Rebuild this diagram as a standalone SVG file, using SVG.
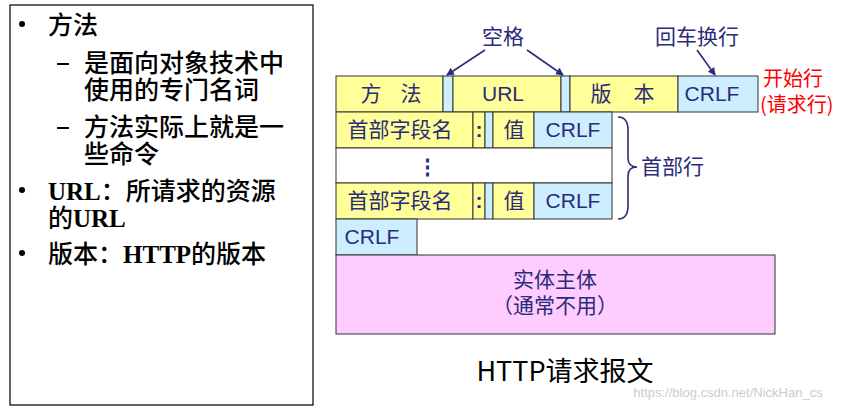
<svg xmlns="http://www.w3.org/2000/svg" width="853" height="407" viewBox="0 0 853 407">
<style>
.t{font-family:"Noto Sans CJK SC","Liberation Sans",sans-serif;font-size:25px;font-weight:500;fill:#000}
.s{font-family:"Liberation Serif","Noto Sans CJK SC",serif;font-weight:bold}
.y{fill:#ffff99;stroke:#333;stroke-width:1}
.b{fill:#cceeff;stroke:#333;stroke-width:1}
.l{font-family:"Liberation Sans","Noto Sans CJK SC",sans-serif;font-size:21px;fill:#2b2b7a}
.a{stroke:#2b2b7a;stroke-width:1.6;fill:none}
</style>
<defs><marker id="ar" markerWidth="8" markerHeight="8" refX="7" refY="4" orient="auto" markerUnits="userSpaceOnUse"><path d="M0,0 L8,4 L0,8 Z" fill="#2b2b7a"/></marker></defs>
<rect width="853" height="407" fill="#fff"/>
<g id="left">
<rect x="10" y="5" width="303" height="400" fill="#fff" stroke="#000" stroke-width="1.2"/>
<circle cx="22" cy="24" r="3" fill="#000"/><text class="t" x="48" y="34">方法</text>
<rect x="57" y="63" width="12" height="2" fill="#000"/><text class="t" x="84" y="72">是面向对象技术中</text>
<text class="t" x="84" y="99">使用的专门名词</text>
<rect x="57" y="127" width="12" height="2" fill="#000"/><text class="t" x="84" y="136">方法实际上就是一</text>
<text class="t" x="84" y="163">些命令</text>
<circle cx="22" cy="190" r="3" fill="#000"/><text class="t" x="48" y="200"><tspan class="s">URL</tspan>：所请求的资源</text>
<text class="t" x="48" y="227">的<tspan class="s">URL</tspan></text>
<circle cx="22" cy="253" r="3" fill="#000"/><text class="t" x="48" y="263">版本：<tspan class="s">HTTP</tspan>的版本</text>
</g>
<g id="row1">
<rect class="y" x="336" y="76" width="107" height="36"/>
<rect class="b" x="443" y="76" width="10" height="36"/>
<rect class="y" x="453" y="76" width="108" height="36"/>
<rect class="b" x="561" y="76" width="9" height="36"/>
<rect class="y" x="570" y="76" width="108" height="36"/>
<rect class="b" x="678" y="76" width="80" height="36"/>
<text class="l" x="371" y="101" text-anchor="middle">方</text>
<text class="l" x="411" y="101" text-anchor="middle">法</text>
<text class="l" x="503" y="101" text-anchor="middle">URL</text>
<text class="l" x="601" y="101" text-anchor="middle">版</text>
<text class="l" x="644" y="101" text-anchor="middle">本</text>
<text class="l" x="712" y="101" text-anchor="middle">CRLF</text>
</g>
<g id="header1">
<rect class="y" x="336" y="112" width="137" height="36"/>
<rect class="y" x="473" y="112" width="12" height="36"/>
<rect class="b" x="485" y="112" width="8" height="36"/>
<rect class="y" x="493" y="112" width="41" height="36"/>
<rect class="b" x="534" y="112" width="78" height="36"/>
<text class="l" x="400" y="137" text-anchor="middle">首部字段名</text>
<text class="l" x="479" y="137" text-anchor="middle" font-weight="bold">:</text>
<text class="l" x="514" y="137" text-anchor="middle">值</text>
<text class="l" x="573" y="137" text-anchor="middle">CRLF</text>
</g>
<g id="dots">
<rect x="336" y="148" width="276" height="35" fill="#fff" stroke="#333"/>
<text class="l" x="427" y="174" text-anchor="middle" font-weight="bold">⋮</text>
</g>
<g id="header2">
<rect class="y" x="336" y="183" width="137" height="36"/>
<rect class="y" x="473" y="183" width="12" height="36"/>
<rect class="b" x="485" y="183" width="8" height="36"/>
<rect class="y" x="493" y="183" width="41" height="36"/>
<rect class="b" x="534" y="183" width="78" height="36"/>
<text class="l" x="400" y="208" text-anchor="middle">首部字段名</text>
<text class="l" x="479" y="208" text-anchor="middle" font-weight="bold">:</text>
<text class="l" x="514" y="208" text-anchor="middle">值</text>
<text class="l" x="573" y="208" text-anchor="middle">CRLF</text>
</g>
<g id="crlf">
<rect class="b" x="336" y="219" width="81" height="36"/>
<text class="l" x="372" y="244" text-anchor="middle">CRLF</text>
</g>
<g id="body">
<rect x="336" y="255" width="439" height="79" fill="#ffccff" stroke="#333"/>
<text class="l" x="555" y="287" text-anchor="middle">实体主体</text>
<text class="l" x="555" y="313" text-anchor="middle">（通常不用）</text>
</g>
<g id="labels">
<text class="l" x="503" y="44" text-anchor="middle">空格</text>
<text class="l" x="697" y="44" text-anchor="middle">回车换行</text>
<text class="l" x="641" y="174">首部行</text>
<text x="763" y="86" font-family="Noto Sans CJK SC,sans-serif" font-size="20" fill="#ff0000">开始行</text>
<text x="760" y="112" font-family="Noto Sans CJK SC,sans-serif" font-size="20" fill="#ff0000">(请求行)</text>
<text x="565" y="381" text-anchor="middle" font-family="Noto Sans CJK SC,sans-serif" font-size="27" fill="#000">HTTP请求报文</text>
<text x="728" y="397" text-anchor="middle" font-family="Liberation Sans,sans-serif" font-size="13" fill="#ccc">https://blog.csdn.net/NickHan_cs</text>
</g>
<g id="connectors">
<path class="a" d="M485,50 L447,75" marker-end="url(#ar)"/>
<path class="a" d="M527,50 L563,75" marker-end="url(#ar)"/>
<path class="a" d="M697,50 L715,75" marker-end="url(#ar)"/>
<path class="a" d="M618,117 Q628,117 628,130 L628,158 Q628,167 637,167 Q628,167 628,176 L628,206 Q628,219 618,219"/>
</g>
</svg>
